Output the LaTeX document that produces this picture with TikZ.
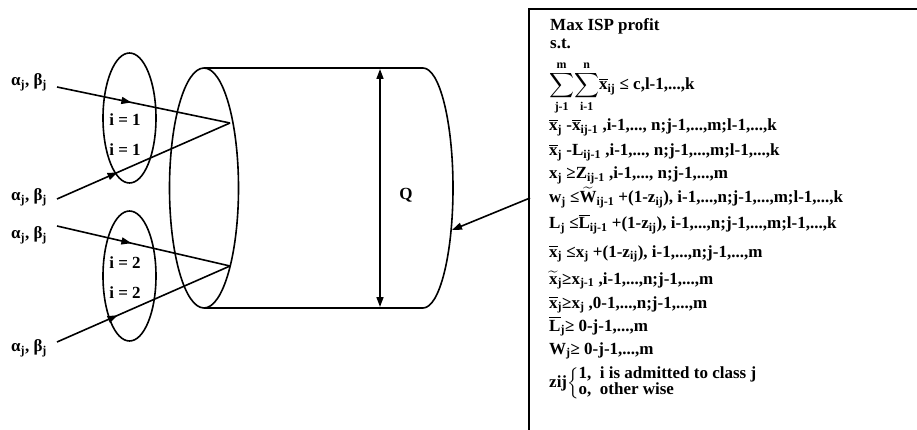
\documentclass[tikz,border=0pt]{standalone}
\usepackage{amsmath}
\usepackage{fontspec}
\setmainfont{Liberation Serif}
\usetikzlibrary{arrows.meta,decorations.markings}
\newcommand{\mybar}[1]{$\overline{\text{#1}}$}
\newcommand{\mytld}[1]{$\widetilde{\text{#1}}$}
\newcommand{\mysb}[1]{\textsubscript{#1}}
\tikzset{
  ln/.style={line width=1.6pt},
  tipA/.style={-{Triangle[length=10pt,width=7pt]}},
  lbl/.style={font=\fontsize{17}{20}\selectfont\bfseries, inner sep=0pt},
  txt/.style={font=\fontsize{17}{20}\selectfont\bfseries, inner sep=0pt, anchor=base west},
  midarrow/.style={postaction={decorate},decoration={markings,mark=at position #1 with {\arrow{Triangle[length=10pt,width=7pt]}}}},
}
\begin{document}
\begin{tikzpicture}[x=1pt,y=-1pt]
\useasboundingbox (0,0) rectangle (917,430);
% constraint box (open right and bottom)
\begin{scope}
\clip (0,0) rectangle (917,430);
\draw[line width=2.2pt] (940,9) -- (529,9) -- (529,450);
\end{scope}
% cylinder
\draw[ln] (204,188) ellipse [x radius=34.5pt, y radius=120pt];
\coordinate (cylTL) at (204,68);
\coordinate (cylTR) at (423,68);
\coordinate (cylBL) at (204,308);
\coordinate (cylBR) at (423,308);
\draw[ln] (cylTL) -- (cylTR);
\draw[ln] (cylBL) -- (cylBR);
\draw[ln] (cylTR) arc[start angle=90, end angle=-90, x radius=30pt, y radius=120pt];
% Q
\coordinate (qT) at (380,69);
\coordinate (qB) at (380,307);
\draw[ln, {Triangle[length=10pt,width=7pt]}-{Triangle[length=10pt,width=7pt]}] (qT) -- (qB);
\node[lbl] (Q) at (406,195) {Q};
% class ellipses
\draw[ln] (129.5,118) ellipse [x radius=26.5pt, y radius=65pt];
\draw[ln] (129.5,276) ellipse [x radius=26.5pt, y radius=65pt];
\node[lbl] (i1a) at (125,120) {i = 1};
\node[lbl] (i1b) at (125,150) {i = 1};
\node[lbl] (i2a) at (125,263) {i = 2};
\node[lbl] (i2b) at (125,293) {i = 2};
% input labels
\node[lbl] (a1) at (29,82) {α\mysb{j}, β\mysb{j}};
\node[lbl] (a2) at (29,197) {α\mysb{j}, β\mysb{j}};
\node[lbl] (a3) at (29,235) {α\mysb{j}, β\mysb{j}};
\node[lbl] (a4) at (29,348) {α\mysb{j}, β\mysb{j}};
\coordinate (s1) at (57,87);
\coordinate (s2) at (57,199);
\coordinate (s3) at (57,226);
\coordinate (s4) at (57,342);
\coordinate (c1) at (230,123);
\coordinate (c2) at (230,266);
\draw[ln, midarrow=0.43] (s1) -- (c1);
\draw[ln, midarrow=0.35] (s2) -- (c1);
\draw[ln, midarrow=0.43] (s3) -- (c2);
\draw[ln, midarrow=0.35] (s4) -- (c2);
% arrow from box to cylinder
\coordinate (boxpt) at (530,198);
\coordinate (cylpt) at (452,230);
\draw[ln, tipA] (boxpt) -- (cylpt);
% constraints text
\node[txt] (t1) at (550,31) {Max ISP profit};
\node[txt] (t2) at (550,49) {s.t.};
\node[txt] (t3) at (549,90) {$\displaystyle\sum_{\text{j-1}}^{\text{m}}\!\sum_{\text{i-1}}^{\text{n}}$\mybar{x}\mysb{ij} ≤ c,l-1,...,k};
\node[txt] (t4) at (549,131) {\mybar{x}\mysb{j} -\mybar{x}\mysb{ij-1} ,i-1,..., n;j-1,...,m;l-1,...,k};
\node[txt] (t5) at (549,156) {\mybar{x}\mysb{j} -L\mysb{ij-1} ,i-1,..., n;j-1,...,m;l-1,...,k};
\node[txt] (t6) at (549,179) {x\mysb{j} ≥Z\mysb{ij-1} ,i-1,..., n;j-1,...,m};
\node[txt] (t7) at (549,203) {w\mysb{j} ≤\mytld{W}\mysb{ij-1} +(1-z\mysb{ij}), i-1,...,n;j-1,...,m;l-1,...,k};
\node[txt] (t8) at (549,229) {L\mysb{j} ≤\mybar{L}\mysb{ij-1} +(1-z\mysb{ij}), i-1,...,n;j-1,...,m;l-1,...,k};
\node[txt] (t9) at (549,257) {\mybar{x}\mysb{j} ≤x\mysb{j} +(1-z\mysb{ij}), i-1,...,n;j-1,...,m};
\node[txt] (t10) at (549,284) {\mytld{x}\mysb{j}≥x\mysb{j-1} ,i-1,...,n;j-1,...,m};
\node[txt] (t11) at (549,308) {\mybar{x}\mysb{j}≥x\mysb{j} ,0-1,...,n;j-1,...,m};
\node[txt] (t12) at (549,331) {\mybar{L}\mysb{j}≥ 0-j-1,...,m};
\node[txt] (t13) at (549,354) {W\mysb{j}≥ 0-j-1,...,m};
\node[txt, anchor=west] (t14) at (549,383) {zij$\renewcommand{\arraystretch}{0.75}\left\{\begin{array}{@{}l@{}}\text{1,\ \ i is admitted to class j}\\ \text{o,\ \ other wise}\end{array}\right.$};
\end{tikzpicture}
\end{document}
